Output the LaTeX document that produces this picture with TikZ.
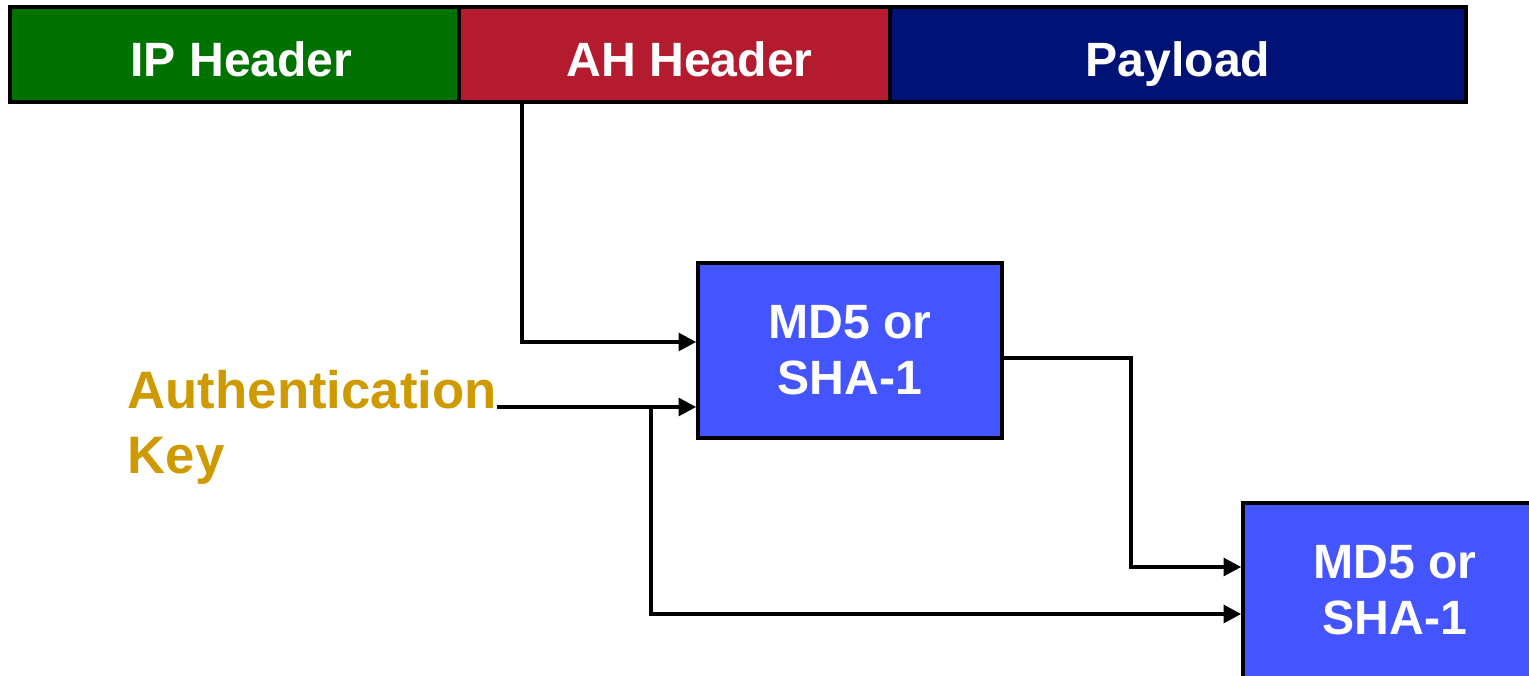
\documentclass[tikz,border=0pt]{standalone}
\usepackage{fontspec}
\setmainfont{Liberation Sans}
\usepackage{tikz}
\usetikzlibrary{arrows.meta}

\definecolor{ipgreen}{RGB}{0,114,0}
\definecolor{ahred}{RGB}{181,27,46}
\definecolor{plnavy}{RGB}{0,18,117}
\definecolor{hashblue}{RGB}{68,85,255}
\definecolor{keygold}{RGB}{206,154,0}

\begin{document}
\begin{tikzpicture}

\tikzstyle{hdr} = [rectangle, draw=black, line width=1.1pt, text=white,
  font=\fontsize{13.7}{16}\selectfont\bfseries, minimum height=0.95cm,
  text height=0.44cm, text depth=0pt, inner sep=0pt]
\tikzstyle{hash} = [rectangle, draw=black, line width=1pt, fill=hashblue,
  text=white, font=\fontsize{13.7}{16}\selectfont\bfseries, align=center,
  minimum width=3.04cm, minimum height=1.75cm, inner sep=0pt]
\tikzstyle{arr} = [line width=1.1pt, -{Triangle[length=5pt,width=5pt]}]

\clip (0,0) rectangle (15.29,-6.76);

\node[hdr, fill=ipgreen, minimum width=4.49cm] (ip) at (2.345,-0.545) {\hspace{0.14cm}IP Header};
\node[hdr, fill=ahred, minimum width=4.31cm] (ah) at (6.745,-0.545) {\hspace{0.3cm}AH Header};
\node[hdr, fill=plnavy, minimum width=5.76cm] (pl) at (11.78,-0.545) {Payload};

\node[hash] (m) at (8.50,-3.505) {MD5 or\\SHA-1};
\node[hash] (n) at (13.95,-5.905) {MD5 or\\SHA-1};

\node[anchor=north west, inner sep=0pt, align=left, text=keygold,
  font=\fontsize{15}{18.4}\selectfont\bfseries] (k) at (1.27,-3.70)
  {Authentication\\Key};

\coordinate (j) at (6.51,-4.07);

\draw[arr] (ah.south -| 5.22,0) |- (m.west |- 0,-3.42);
\draw[arr] (k.east |- 0,-4.07) -- (m.west |- 0,-4.07);
\draw[arr] (j) |- (n.west |- 0,-6.14);
\draw[arr] (m.east |- 0,-3.58) -- (11.31,-3.58) |- (n.west |- 0,-5.67);

\end{tikzpicture}
\end{document}
